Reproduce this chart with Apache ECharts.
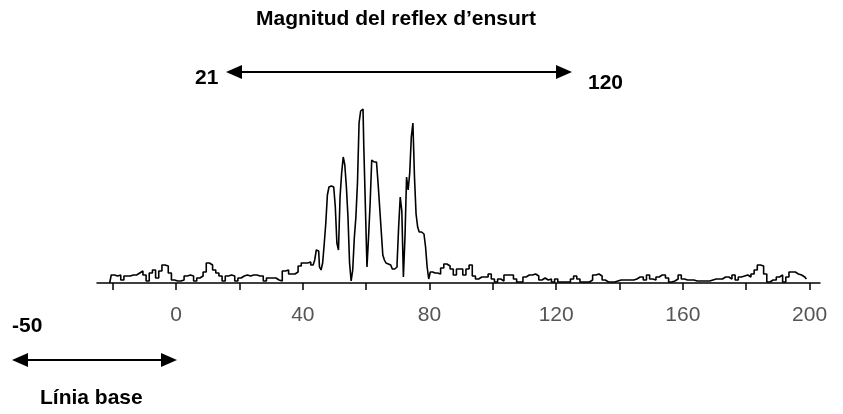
<!DOCTYPE html>
<html>
<head>
<meta charset="utf-8">
<script src="https://cdn.jsdelivr.net/npm/echarts@6/dist/echarts.min.js"></script>
<style>
  html, body { margin: 0; padding: 0; background: #fff; }
  #chart { width: 843px; height: 414px; }
</style>
</head>
<body>
<div id="chart"></div>
<script>
// EMG rectified signal (arbitrary amplitude units) sampled around the startle stimulus (ms)
const baselineStart = -21, baselineStep = 1;
const baselineAmp = [0, 8, 7, 8, 3, 7, 7, 8, 8, 10, 12, 8, 2, 10, 13, 5, 12, 18, 17, 10, 3,
  2, 2, 3, 7, 8, 7, 2, 5, 7, 11, 20, 18, 13, 10, 7, 2, 7, 8, 7, 2,
  5, 7, 8, 7, 8, 8, 7, 7, 2, 5, 5, 5, 3, 2, 12, 13, 9, 9, 11, 17,
  20, 20, 21, 18];

// reflex burst, finer sampling
const burstStart = 43.5, burstStep = 0.5;
const burstAmp = [20, 23, 33, 32, 16, 13, 20, 39, 60, 88, 96, 97, 96, 94, 76, 40, 33, 86,
  110, 126, 118, 96, 66, 20, 2, 13, 45, 66, 100, 160, 172, 174, 136, 76, 16, 46,
  80, 123, 121, 121, 121, 100, 76, 52, 28, 23, 20, 19, 18, 16, 14, 14, 16, 19,
  56, 86, 72, 6, 46, 106, 93, 110, 146, 160, 106, 69, 56, 51, 51, 49, 49, 36,
  16, 4, 11, 11, 10, 8, 10];

const tailStart = 83, tailStep = 1;
const tailAmp = [9, 15, 19, 17, 14, 8, 14, 14, 8, 14, 18, 7, 4, 6, 6, 6, 9,
  4, 1, 4, 2, 8, 8, 8, 4, 1, 1, 6, 8, 8, 9, 7, 3, 5, 3, 4, 1,
  4, 1, 1, 1, 1, 4, 7, 4, 1, 1, 1, 3, 8, 9, 7, 3, 1, 1, 1, 2,
  3, 3, 3, 3, 3, 4, 6, 6, 3, 8, 4, 3, 6, 8, 8, 5, 1, 2, 4, 8,
  4, 3, 3, 3, 2, 2, 2, 2, 2, 3, 4, 4, 4, 6, 6, 4, 8, 3, 6, 7,
  8, 6, 9, 13, 18, 17, 9, 1, 3, 3, 6, 8, 1, 6, 11, 11, 9, 8, 6, 4];

const tickValues = [-20, 0, 20, 40, 60, 80, 100, 120, 140, 160, 180, 200];
const labelValues = [0, 40, 80, 120, 160, 200];

function segment(start, step, amps) {
  return amps.map((v, i) => [start + i * step, v]);
}
const signal = [].concat(
  segment(baselineStart, baselineStep, baselineAmp),
  segment(burstStart, burstStep, burstAmp),
  segment(tailStart, tailStep, tailAmp)
);

const boldText = { fontFamily: 'Liberation Sans, Arial, sans-serif', fontWeight: 'bold', fontSize: 21, fill: '#000' };

function arrow(x1, x2, y) {
  const head = 16, half = 7;
  return [
    { type: 'line', shape: { x1: x1 + head - 2, y1: y, x2: x2 - head + 2, y2: y }, style: { stroke: '#000', lineWidth: 2 } },
    { type: 'polygon', shape: { points: [[x1, y], [x1 + head, y - half], [x1 + head, y + half]] }, style: { fill: '#000' } },
    { type: 'polygon', shape: { points: [[x2, y], [x2 - head, y - half], [x2 - head, y + half]] }, style: { fill: '#000' } }
  ];
}

const chart = echarts.init(document.getElementById('chart'), null, { renderer: 'canvas' });
chart.setOption({
  animation: false,
  backgroundColor: '#fff',
  grid: { left: 97, right: 23, top: 103, bottom: 131 },
  xAxis: {
    type: 'value',
    min: -25,
    max: 203.3,
    splitLine: { show: false },
    axisLine: { show: true, onZero: false, lineStyle: { color: '#000', width: 1.5 } },
    axisTick: { show: true, customValues: tickValues, length: 7, lineStyle: { color: '#000', width: 1.5 } },
    axisLabel: {
      customValues: labelValues,
      margin: 22,
      fontSize: 21,
      color: '#555',
      fontFamily: 'Liberation Sans, Arial, sans-serif'
    }
  },
  yAxis: { type: 'value', min: 0, max: 180, show: false },
  series: [{
    type: 'line',
    data: signal,
    step: 'middle',
    showSymbol: false,
    lineStyle: { color: '#000', width: 1.6 },
    z: 3
  }],
  graphic: [
    { type: 'text', left: 256, top: 9, style: Object.assign({ text: 'Magnitud del reflex d\u2019ensurt' }, boldText) },
    { type: 'text', left: 195, top: 68, style: Object.assign({ text: '21' }, boldText) },
    { type: 'text', left: 588, top: 73, style: Object.assign({ text: '120' }, boldText) },
    { type: 'text', left: 12, top: 316, style: Object.assign({ text: '-50' }, boldText) },
    { type: 'text', left: 40, top: 388, style: Object.assign({ text: 'L\u00ednia base' }, boldText) }
  ].concat(arrow(226, 572, 72), arrow(12, 177, 360))
});
</script>
</body>
</html>
